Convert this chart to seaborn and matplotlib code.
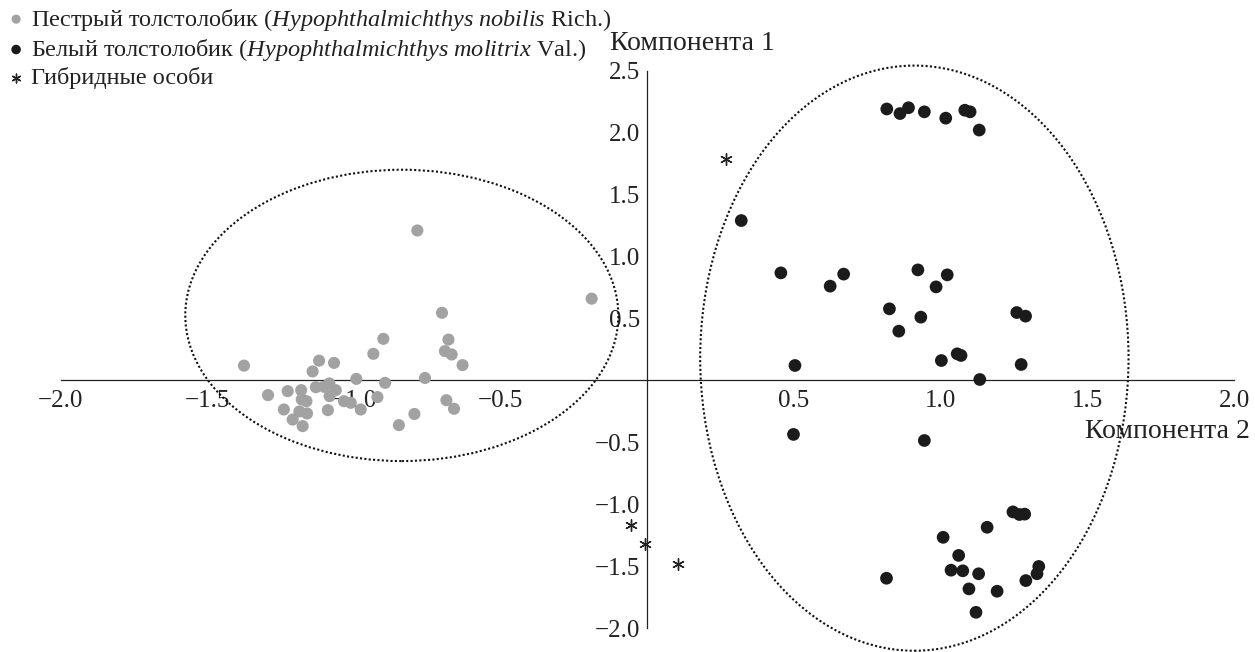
import matplotlib
matplotlib.use("Agg")
import matplotlib.pyplot as plt
from matplotlib.patches import Ellipse
import seaborn as sns

# пестрый толстолобик (серые точки)
nobilis_x = [-0.784, -0.19, -0.70, -0.90, -0.678, -0.934, -0.69, -0.667, -0.63, -1.375,
             -1.119, -1.068, -1.141, -0.992, -0.758, -0.894, -1.293, -1.226, -1.18, -1.13,
             -1.102, -1.084, -1.062, -1.083, -1.178, -1.162, -1.034, -1.011, -0.977, -0.92,
             -0.685, -0.659, -1.239, -1.186, -1.16, -1.089, -1.209, -1.175, -0.847, -0.794]
nobilis_y = [1.21, 0.66, 0.546, 0.336, 0.33, 0.215, 0.237, 0.21, 0.124, 0.12,
             0.16, 0.142, 0.073, 0.013, 0.02, -0.019, -0.118, -0.086, -0.078, -0.054,
             -0.051, -0.024, -0.078, -0.126, -0.153, -0.167, -0.167, -0.18, -0.234, -0.134,
             -0.159, -0.228, -0.234, -0.25, -0.266, -0.239, -0.315, -0.368, -0.36, -0.27]

# белый толстолобик (черные точки)
molitrix_x = [0.816, 0.861, 0.89, 0.944, 1.017, 1.082, 1.1, 1.131, 0.32, 0.455,
              0.623, 0.669, 0.922, 1.022, 0.984, 0.825, 0.932, 0.857, 1.259, 1.289,
              0.503, 1.002, 1.056, 1.069, 1.274, 1.133, 0.498, 0.944, 1.246, 1.268,
              1.286, 1.158, 1.008, 1.061, 1.035, 1.075, 1.129, 1.334, 1.328, 1.29,
              0.815, 1.096, 1.192, 1.12]
molitrix_y = [2.19, 2.153, 2.2, 2.167, 2.116, 2.18, 2.167, 2.02, 1.29, 0.868,
              0.761, 0.858, 0.892, 0.852, 0.755, 0.578, 0.511, 0.398, 0.548, 0.519,
              0.121, 0.161, 0.215, 0.202, 0.129, 0.008, -0.435, -0.484, -1.06, -1.081,
              -1.078, -1.184, -1.265, -1.411, -1.53, -1.535, -1.559, -1.5, -1.559, -1.614,
              -1.595, -1.681, -1.7, -1.87]

# гибридные особи
hybrid_x = [0.268, -0.057, -0.008, 0.104]
hybrid_y = [1.79, -1.162, -1.316, -1.478]

x_ticks = [-2.0, -1.5, -1.0, -0.5, 0.5, 1.0, 1.5, 2.0]
y_ticks = [-2.0, -1.5, -1.0, -0.5, 0.5, 1.0, 1.5, 2.0, 2.5]

labels = [
    "Пестрый толстолобик ($\\mathit{Hypophthalmichthys\\ nobilis}$ Rich.)",
    "Белый толстолобик ($\\mathit{Hypophthalmichthys\\ molitrix}$ Val.)",
    "Гибридные особи",
]

sns.set_style("white")
plt.rcParams["font.family"] = ["Liberation Serif", "DejaVu Serif"]
plt.rcParams["mathtext.fontset"] = "custom"
plt.rcParams["mathtext.rm"] = "Liberation Serif"
plt.rcParams["mathtext.it"] = "Liberation Serif:italic"
plt.rcParams["axes.unicode_minus"] = True

fig = plt.figure(figsize=(12.55, 6.52), dpi=100)
ax = fig.add_axes([0, 0, 1, 1])

sns.scatterplot(x=nobilis_x, y=nobilis_y, color="#a2a2a2", s=76, edgecolor="none",
                zorder=3, label=labels[0], ax=ax)
sns.scatterplot(x=molitrix_x, y=molitrix_y, color="#1b1b1b", s=84, edgecolor="none",
                zorder=3, label=labels[1], ax=ax)
sns.scatterplot(x=hybrid_x, y=hybrid_y, color="#222222", marker=(6, 2, 0), s=70,
                linewidth=1.0, zorder=3, label=labels[2], ax=ax)

# пунктирные эллипсы вокруг групп
for (cx, cy), w, h in [((-0.837, 0.525), 1.476, 2.35), ((0.91, 0.18), 1.46, 4.72)]:
    ax.add_patch(Ellipse((cx, cy), w, h, fill=False, edgecolor="#111111",
                         linewidth=1.5, linestyle=(0, (1, 1.1)), zorder=2))

ax.set_xlim(-2.2065, 2.071)
ax.set_ylim(-2.19, 3.069)

# оси пересекаются в нуле
for side in ["top", "right"]:
    ax.spines[side].set_visible(False)
ax.spines["left"].set_position(("data", 0))
ax.spines["bottom"].set_position(("data", 0))
ax.spines["left"].set_bounds(-2.0, 2.5)
ax.spines["bottom"].set_bounds(-2.0, 2.0)
for side in ["left", "bottom"]:
    ax.spines[side].set_color("#222222")
    ax.spines[side].set_linewidth(0.9)

ax.set_xticks(x_ticks)
ax.set_yticks(y_ticks)
ax.set_xticklabels([f"{v:.1f}".replace("-", "\u2212") for v in x_ticks])
ax.set_yticklabels([f"{v:.1f}".replace("-", "\u2212") for v in y_ticks])
ax.tick_params(axis="x", direction="in", length=6.5, width=0.9, pad=7, labelsize=18,
               color="#222222", labelcolor="#222222")
ax.tick_params(axis="y", direction="in", length=6.5, width=0.9, pad=5, labelsize=18,
               color="#222222", labelcolor="#222222")

fig.text(610 / 1255, 1 - 43 / 652, "Компонента 1", fontsize=20, color="#222222",
         ha="left", va="center")
fig.text(1250 / 1255, 1 - 432 / 652, "Компонента 2", fontsize=20, color="#222222",
         ha="right", va="center")

ax.get_legend().remove()
handles, labs = ax.get_legend_handles_labels()
fig.legend(handles, labs, loc="upper left", bbox_to_anchor=(0.008, 0.99), frameon=False,
           fontsize=17.5, markerscale=0.75, handlelength=0.5, handletextpad=0.35,
           labelspacing=0.18, borderaxespad=0, borderpad=0, labelcolor="#222222")

fig.savefig("out.png", dpi=100)
plt.close(fig)
